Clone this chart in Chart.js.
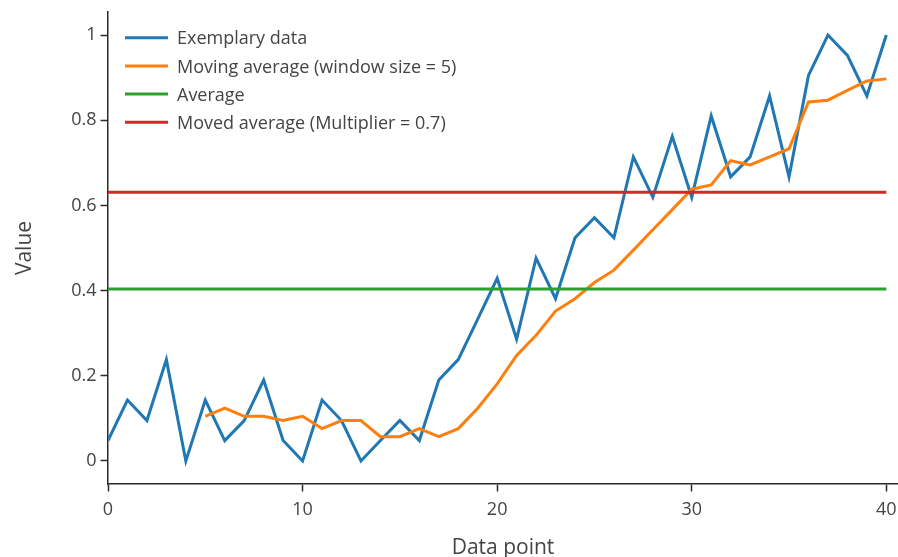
<!DOCTYPE html>
<html>
<head>
<meta charset="utf-8">
<script src="https://cdn.jsdelivr.net/npm/chart.js@4.4.1/dist/chart.umd.min.js"></script>
<style>
  html, body { margin: 0; padding: 0; background: #ffffff; }
  #wrap { width: 898px; height: 557px; }
</style>
</head>
<body>
<div id="wrap"><canvas id="c" width="898" height="557"></canvas></div>
<script>
// ---- data ----
const dataPoints = [0,1,2,3,4,5,6,7,8,9,10,11,12,13,14,15,16,17,18,19,20,21,22,23,24,25,26,27,28,29,30,31,32,33,34,35,36,37,38,39,40];
const exemplaryData = [0.048,0.143,0.095,0.238,0.000,0.143,0.048,0.095,0.190,0.048,0.000,0.143,0.095,0.000,0.048,0.095,0.048,0.190,0.238,0.333,0.429,0.286,0.476,0.381,0.524,0.571,0.524,0.714,0.619,0.762,0.619,0.810,0.667,0.714,0.857,0.667,0.905,1.000,0.952,0.857,1.000];
const movingAverage = [null,null,null,null,null,0.105,0.124,0.105,0.105,0.095,0.105,0.076,0.095,0.095,0.057,0.057,0.076,0.057,0.076,0.124,0.181,0.248,0.295,0.352,0.381,0.419,0.448,0.495,0.543,0.590,0.638,0.648,0.705,0.695,0.714,0.733,0.843,0.847,0.870,0.892,0.897];
const averageValue = 0.404;
const movedAverageValue = 0.631;
const seriesLabels = ['Exemplary data', 'Moving average (window size = 5)', 'Average', 'Moved average (Multiplier = 0.7)'];
const xTicks = [0, 10, 20, 30, 40];
const yTicks = [0, 0.2, 0.4, 0.6, 0.8, 1];
const xAxisTitle = 'Data point';
const yAxisTitle = 'Value';

// ---- build ----
const toPts = arr => dataPoints.map((x, i) => ({ x: x, y: arr[i] }));
const flat = v => [{ x: dataPoints[0], y: v }, { x: dataPoints[dataPoints.length - 1], y: v }];

const textColor = '#444444';
const axisColor = '#2a2a2a';

Chart.defaults.font.family = '"Open Sans", sans-serif';
Chart.defaults.color = textColor;

const insideLegend = {
  id: 'insideLegend',
  afterDraw(chart) {
    const ctx = chart.ctx;
    const a = chart.chartArea;
    ctx.save();
    ctx.font = '18px "Open Sans", sans-serif';
    ctx.textBaseline = 'middle';
    ctx.textAlign = 'left';
    chart.data.datasets.forEach((ds, i) => {
      const y = a.top + 25.7 + i * 28.2;
      ctx.strokeStyle = ds.borderColor;
      ctx.lineWidth = 3;
      ctx.beginPath();
      ctx.moveTo(a.left + 17, y);
      ctx.lineTo(a.left + 60, y);
      ctx.stroke();
      ctx.fillStyle = textColor;
      ctx.fillText(ds.label, a.left + 69, y + 1.5);
    });
    ctx.restore();
  }
};

const lineDs = (label, data, color, order) => ({
  label: label, data: data, borderColor: color, backgroundColor: color,
  borderWidth: 3, pointRadius: 0, pointHoverRadius: 0, tension: 0, fill: false,
  spanGaps: false, order: order
});

new Chart(document.getElementById('c'), {
  type: 'line',
  data: {
    datasets: [
      lineDs(seriesLabels[0], toPts(exemplaryData), '#1f77b4', 3),
      lineDs(seriesLabels[1], toPts(movingAverage), '#ff7f0e', 2),
      lineDs(seriesLabels[2], flat(averageValue), '#2ca02c', 1),
      lineDs(seriesLabels[3], flat(movedAverageValue), '#d62728', 0)
    ]
  },
  options: {
    responsive: false,
    animation: false,
    devicePixelRatio: 1,
    layout: { padding: { top: 12, left: 0, right: 0, bottom: 0 } },
    plugins: { legend: { display: false }, tooltip: { enabled: false } },
    scales: {
      x: {
        type: 'linear',
        min: 0, max: 40.6,
        afterBuildTicks: s => { s.ticks = xTicks.map(v => ({ value: v })); },
        afterFit: s => { s.height = 73; s.paddingLeft = 0; s.paddingRight = 0; },
        ticks: { font: { size: 18 }, color: textColor, padding: 8, maxRotation: 0, callback: v => String(v) },
        grid: { display: true, drawOnChartArea: false, drawTicks: true, tickLength: 7.5, tickColor: axisColor, tickWidth: 1.5 },
        border: { display: true, color: axisColor, width: 1.5 },
        title: { display: true, text: xAxisTitle, font: { size: 21, lineHeight: 1 }, color: textColor, padding: { top: 0, bottom: -1.5 } }
      },
      y: {
        type: 'linear',
        min: -0.054, max: 1.054,
        afterBuildTicks: s => { s.ticks = yTicks.map(v => ({ value: v })); },
        afterFit: s => { s.width = 108; s.paddingTop = 0; s.paddingBottom = 0; },
        ticks: { font: { size: 18 }, color: textColor, padding: 4, callback: v => String(v) },
        grid: { display: true, drawOnChartArea: false, drawTicks: true, tickLength: 7.5, tickColor: axisColor, tickWidth: 1.5 },
        border: { display: true, color: axisColor, width: 1.5 },
        title: { display: true, text: yAxisTitle, font: { size: 21, lineHeight: 1 }, color: textColor, padding: { top: 14.5, bottom: 0 } }
      }
    }
  },
  plugins: [insideLegend]
});
</script>
</body>
</html>
